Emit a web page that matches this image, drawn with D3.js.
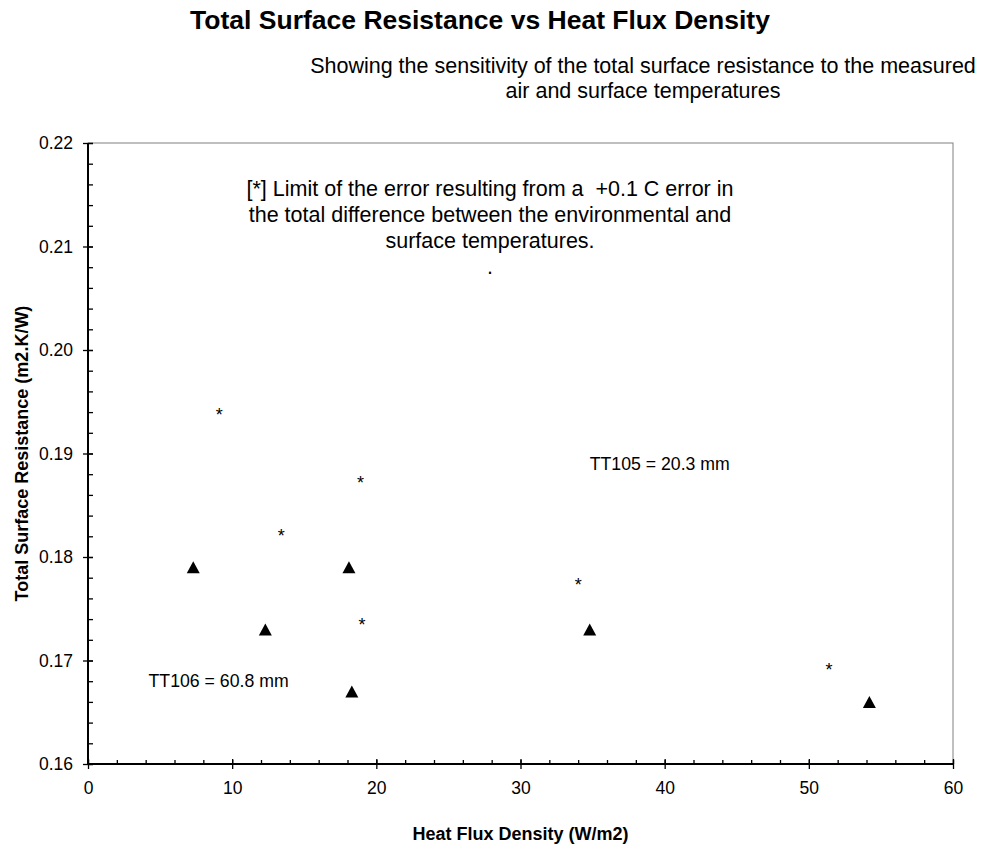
<!DOCTYPE html>
<html>
<head>
<meta charset="utf-8">
<script src="https://cdn.jsdelivr.net/npm/d3@7"></script>
<style>
  html, body { margin: 0; padding: 0; background: #fff; }
  svg { display: block; font-family: "Liberation Sans", Arial, Helvetica, sans-serif; }
</style>
</head>
<body>
<svg id="chart" width="984" height="848"></svg>
<script>
// Measured total surface resistance (triangles)
const resistanceFlux = [7.3, 12.3, 18.1, 18.3, 34.8, 54.2];
const resistanceValue = [0.179, 0.173, 0.179, 0.167, 0.173, 0.166];

// Upper limit of the error for a +0.1 C temperature difference error (asterisks)
const limitFlux = [9.1, 13.4, 18.9, 19.0, 34.0, 51.4];
const limitValue = [0.1942, 0.1825, 0.1876, 0.1739, 0.1777, 0.1695];

// Axis ticks
const xTickValues = [0, 10, 20, 30, 40, 50, 60];
const yTickValues = [0.16, 0.17, 0.18, 0.19, 0.20, 0.21, 0.22];
const xMinorTicks = d3.range(0, 60.001, 2);
const yMinorTicks = d3.range(0.16, 0.2201, 0.002);

// Text
const titleText = "Total Surface Resistance vs Heat Flux Density";
const subtitleLines = [
  "Showing the sensitivity of the total surface resistance to the measured",
  "air and surface temperatures"
];
const noteLines = [
  "[*] Limit of the error resulting from a  +0.1 C error in",
  "the total difference between the environmental and",
  "surface temperatures.",
  "."
];
const xTitle = "Heat Flux Density (W/m2)";
const yTitle = "Total Surface Resistance (m2.K/W)";
const seriesLabels = [
  { text: "TT105 = 20.3 mm", x: 34.8, y: 0.18845 },
  { text: "TT106 = 60.8 mm", x: 4.2, y: 0.16745 }
];

const svg = d3.select("#chart");
const plot = { left: 88, right: 953, top: 143, bottom: 764 };

const x = d3.scaleLinear().domain([0, 60]).range([plot.left, plot.right]);
const y = d3.scaleLinear().domain([0.16, 0.22]).range([plot.bottom, plot.top]);

// Plot frame
svg.append("rect")
  .attr("x", plot.left).attr("y", plot.top)
  .attr("width", plot.right - plot.left).attr("height", plot.bottom - plot.top)
  .attr("fill", "none").attr("stroke", "#808080").attr("stroke-width", 1);

// Minor ticks (inside)
const xMinor = svg.append("g").attr("transform", `translate(0,${plot.bottom})`)
  .call(d3.axisBottom(x).tickValues(xMinorTicks).tickSize(-4).tickFormat(""));
const yMinor = svg.append("g").attr("transform", `translate(${plot.left},0)`)
  .call(d3.axisLeft(y).tickValues(yMinorTicks).tickSize(-5).tickFormat(""));

// Major ticks crossing the axis
const xInner = svg.append("g").attr("transform", `translate(0,${plot.bottom})`)
  .call(d3.axisBottom(x).tickValues(xTickValues).tickSize(-5).tickFormat(""));
const yInner = svg.append("g").attr("transform", `translate(${plot.left},0)`)
  .call(d3.axisLeft(y).tickValues(yTickValues).tickSize(-5).tickFormat(""));

const xAxis = svg.append("g").attr("transform", `translate(0,${plot.bottom})`)
  .call(d3.axisBottom(x).tickValues(xTickValues).tickSize(5).tickPadding(13)
    .tickFormat(d3.format("d")));
const yAxis = svg.append("g").attr("transform", `translate(${plot.left},0)`)
  .call(d3.axisLeft(y).tickValues(yTickValues).tickSize(5).tickPadding(10)
    .tickFormat(d3.format(".2f")));

[xMinor, yMinor, xInner, yInner, xAxis, yAxis].forEach(g => {
  g.select(".domain").remove();
  g.selectAll(".tick line").attr("stroke", "#000").attr("stroke-width", 1.3);
});
[xAxis, yAxis].forEach(g => {
  g.selectAll(".tick text")
    .attr("fill", "#000")
    .style("font-size", "17.5px")
    .style("font-family", "'Liberation Sans', Arial, sans-serif");
});

// Axis lines
svg.append("line")
  .attr("x1", plot.left).attr("x2", plot.right)
  .attr("y1", plot.bottom).attr("y2", plot.bottom)
  .attr("stroke", "#000").attr("stroke-width", 2);
svg.append("line")
  .attr("x1", plot.left).attr("x2", plot.left)
  .attr("y1", plot.top).attr("y2", plot.bottom)
  .attr("stroke", "#000").attr("stroke-width", 2);

// Triangle markers (centred on their bounding box)
const triangleType = {
  draw(ctx, size) {
    const w = Math.sqrt(size);
    const h = w * 0.92;
    ctx.moveTo(0, -h / 2);
    ctx.lineTo(w / 2, h / 2);
    ctx.lineTo(-w / 2, h / 2);
    ctx.closePath();
  }
};
const resistancePoints = resistanceFlux.map((f, i) => ({ f, v: resistanceValue[i] }));
svg.append("g").selectAll("path")
  .data(resistancePoints)
  .join("path")
  .attr("d", d3.symbol(triangleType, 169))
  .attr("transform", d => `translate(${x(d.f)},${y(d.v)})`)
  .attr("fill", "#000");

// Asterisk markers
const limitPoints = limitFlux.map((f, i) => ({ f, v: limitValue[i] }));
svg.append("g").selectAll("text")
  .data(limitPoints)
  .join("text")
  .attr("x", d => x(d.f))
  .attr("y", d => y(d.v) + 10.5)
  .attr("text-anchor", "middle")
  .style("font-size", "18px")
  .attr("fill", "#000")
  .text("*");

// Title and subtitle
svg.append("text")
  .attr("x", 480).attr("y", 29)
  .attr("text-anchor", "middle")
  .style("font-size", "26.5px").style("font-weight", "bold")
  .text(titleText);

svg.append("g").selectAll("text")
  .data(subtitleLines)
  .join("text")
  .attr("x", 643).attr("y", (d, i) => 73 + i * 25)
  .attr("text-anchor", "middle")
  .style("font-size", "21.5px")
  .text(d => d);

// Footnote inside the plot
svg.append("g").selectAll("text")
  .data(noteLines)
  .join("text")
  .attr("x", 490)
  .attr("y", (d, i) => 196 + i * 26)
  .attr("text-anchor", "middle")
  .style("font-size", "21.5px")
  .style("white-space", "pre")
  .text(d => d);

// Series labels
svg.append("g").selectAll("text")
  .data(seriesLabels)
  .join("text")
  .attr("x", d => x(d.x)).attr("y", d => y(d.y))
  .style("font-size", "17.7px")
  .text(d => d.text);

// Axis titles
svg.append("text")
  .attr("x", (plot.left + plot.right) / 2).attr("y", 840)
  .attr("text-anchor", "middle")
  .style("font-size", "18px").style("font-weight", "bold")
  .text(xTitle);

svg.append("text")
  .attr("transform", `translate(28,${(plot.top + plot.bottom) / 2}) rotate(-90)`)
  .attr("text-anchor", "middle")
  .style("font-size", "18px").style("font-weight", "bold")
  .text(yTitle);
</script>
</body>
</html>
